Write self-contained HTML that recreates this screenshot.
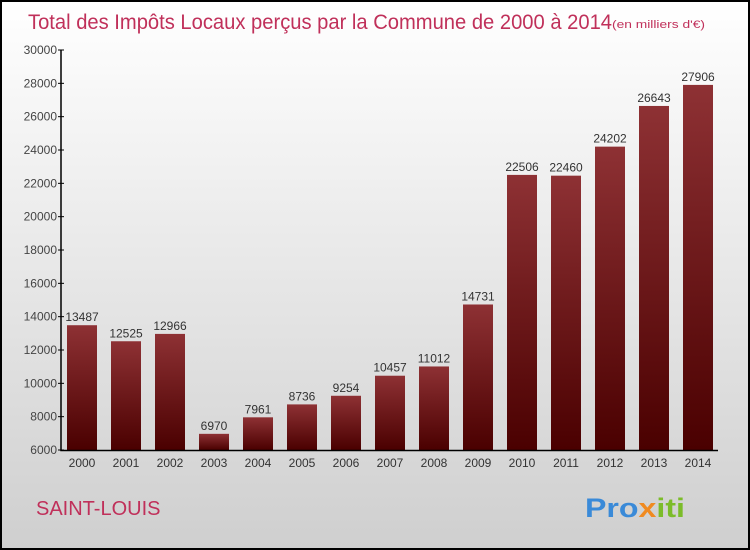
<!DOCTYPE html>
<html><head><meta charset="utf-8"><style>
body{margin:0;}
#wrap{width:746px;height:546px;border:2px solid #000;background:linear-gradient(#ffffff,#cfcfcf);position:relative;overflow:hidden;font-family:"Liberation Sans",sans-serif;}
</style></head><body>
<div id="wrap">
<svg id="svg" width="746" height="546" style="position:absolute;left:0;top:0">
<defs><linearGradient id="bg" x1="0" y1="0" x2="0" y2="1"><stop offset="0" stop-color="#8e3134"/><stop offset="1" stop-color="#4a0000"/></linearGradient></defs>
<text x="26" y="27" font-size="21" fill="#c0305a" textLength="584" lengthAdjust="spacingAndGlyphs">Total des Impôts Locaux perçus par la Commune de 2000 à 2014</text>
<text x="610" y="26" font-size="11" fill="#c0305a" textLength="93" lengthAdjust="spacingAndGlyphs">(en milliers d'€)</text>
<text x="34" y="513" font-size="20" fill="#c0305a">SAINT-LOUIS</text>
<text x="583" y="515" font-size="27" font-weight="bold" fill="#3a8ad8" textLength="100" lengthAdjust="spacingAndGlyphs">Pro<tspan fill="#f08a20">x</tspan><tspan fill="#7cbc2a">iti</tspan></text>
<g id="g"></g>
</svg>
</div>
<script>
const years=["2000","2001","2002","2003","2004","2005","2006","2007","2008","2009","2010","2011","2012","2013","2014"];
const values=[13487,12525,12966,6970,7961,8736,9254,10457,11012,14731,22506,22460,24202,26643,27906];
const ticks=[6000,8000,10000,12000,14000,16000,18000,20000,22000,24000,26000,28000,30000];
const ns="http://www.w3.org/2000/svg",g=document.getElementById('g');
const y=v=>448-(v-6000)/24000*400, x=i=>80+i*44;
function el(t,a){const e=document.createElementNS(ns,t);for(const k in a)e.setAttribute(k,a[k]);g.appendChild(e);return e;}
ticks.forEach(t=>{const l=el('line',{x1:56,x2:62,y1:y(t),y2:y(t),stroke:'#000'});

const tx=el('text',{x:55,y:y(t)+4,'font-size':12,'text-anchor':'end',fill:'#444'});tx.textContent=t;
});
values.forEach((v,i)=>{const r=el('rect',{x:x(i)-15,y:y(v),width:30,height:448-y(v),fill:'url(#bg)'});

const t=el('text',{x:x(i),y:y(v)-4,'font-size':12,'text-anchor':'middle',fill:'#333'});t.textContent=v;

const yl=el('text',{x:x(i),y:465,'font-size':12,'text-anchor':'middle',fill:'#333'});yl.textContent=years[i];
});
const ax=el('path',{d:'M59 48 V448.5 H716',stroke:'#000',fill:'none','stroke-width':1.5});

</script>
</body></html>
